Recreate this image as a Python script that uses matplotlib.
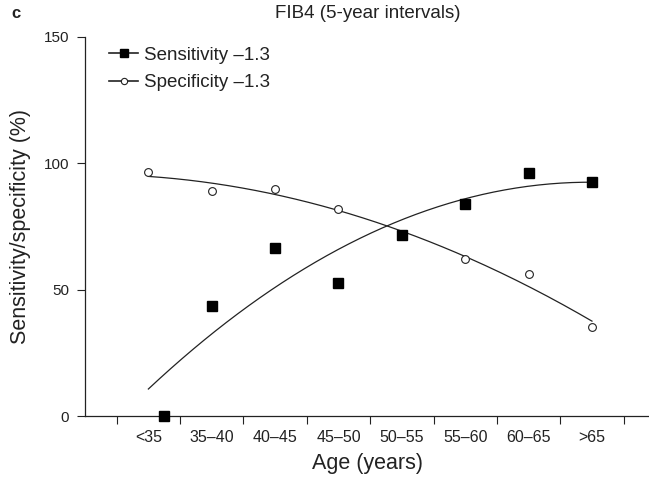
import numpy as np
import matplotlib
matplotlib.use("Agg")
import matplotlib.pyplot as plt

# age groups and measured sensitivity / specificity (%)
age_groups = ["<35", "35–40", "40–45", "45–50", "50–55", "55–60", "60–65", ">65"]
sensitivity = [0, 43.6, 66.6, 52.7, 71.4, 83.7, 96.1, 92.7]
specificity = [96.3, 88.9, 89.6, 81.7, 71, 62.1, 56.0, 35.0]
# the first sensitivity marker sits a bit right of its group centre in the original
sens_offset = [0.25, 0, 0, 0, 0, 0, 0, 0]

plt.rcParams['font.family'] = ['Liberation Sans', 'DejaVu Sans']
ink = '#222222'

fig = plt.figure(figsize=(6.49, 4.79), dpi=100)
ax = fig.add_axes([85/649, 1-416/479, 1-85/649, (416-36.7)/479])

idx = np.arange(len(age_groups))
xs = np.linspace(0, len(age_groups)-1, 200)

# quadratic trend lines fitted to the points
fit_sens = np.polyval(np.polyfit(idx, sensitivity, 2), xs)
fit_spec = np.polyval(np.polyfit(idx, specificity, 2), xs)
ax.plot(xs, fit_sens, color=ink, lw=0.9, zorder=2)
ax.plot(xs, fit_spec, color=ink, lw=0.9, zorder=2)

ax.plot(idx, specificity, 'o', ms=5.6, mfc='white', mec=ink, mew=0.8,
        ls='none', zorder=3, clip_on=False)
ax.plot(idx + np.array(sens_offset), sensitivity, 's', ms=6.6, color='black',
        ls='none', zorder=4, clip_on=False)

# legend handles: line + marker
h1, = ax.plot([], [], '-s', color=ink, mfc='black', mec='black', ms=5.2, lw=1.2)
h2, = ax.plot([], [], '-o', color=ink, mfc='white', mec=ink, ms=4.5, mew=0.8, lw=1.2)
ax.legend([h1, h2], ["Sensitivity –1.3", "Specificity –1.3"], loc='upper left',
          bbox_to_anchor=(0.0426, 0.974), frameon=False, fontsize=13.5,
          borderpad=0, borderaxespad=0, handlelength=1.55, handletextpad=0.3,
          labelspacing=0.56, labelcolor=ink)

ax.set_xlim(-1, 7.9)
ax.set_ylim(0, 150)
ax.spines['top'].set_visible(False)
ax.spines['right'].set_visible(False)
for s in ['left', 'bottom']:
    ax.spines[s].set_linewidth(0.9)
    ax.spines[s].set_color(ink)

ax.set_yticks([0, 50, 100, 150])
ax.tick_params(axis='y', direction='out', length=6, width=0.8, color=ink,
               labelsize=11, pad=5.5, labelcolor=ink)

# boundaries get tick marks, group centres get labels
ax.set_xticks(np.arange(-0.5, len(age_groups), 1.0))
ax.set_xticklabels([])
ax.set_xticks(idx, minor=True)
ax.set_xticklabels(age_groups, minor=True)
ax.tick_params(axis='x', which='major', direction='out', length=5.5, width=0.8, color=ink)
ax.tick_params(axis='x', which='minor', length=0, labelsize=11.5, pad=10, labelcolor=ink)

ax.set_xlabel("Age (years)", fontsize=15.5, color=ink, labelpad=6)
ax.set_ylabel("Sensitivity/specificity (%)", fontsize=15.5, color=ink, labelpad=9)

fig.text(368/649, 1-5/479, "FIB4 (5-year intervals)", ha='center', va='top',
         fontsize=13.5, color=ink)
fig.text(11/649, 1-6/479, "c", ha='left', va='top', fontsize=12,
         fontweight='bold', color=ink)

fig.savefig("out.png", dpi=100)
